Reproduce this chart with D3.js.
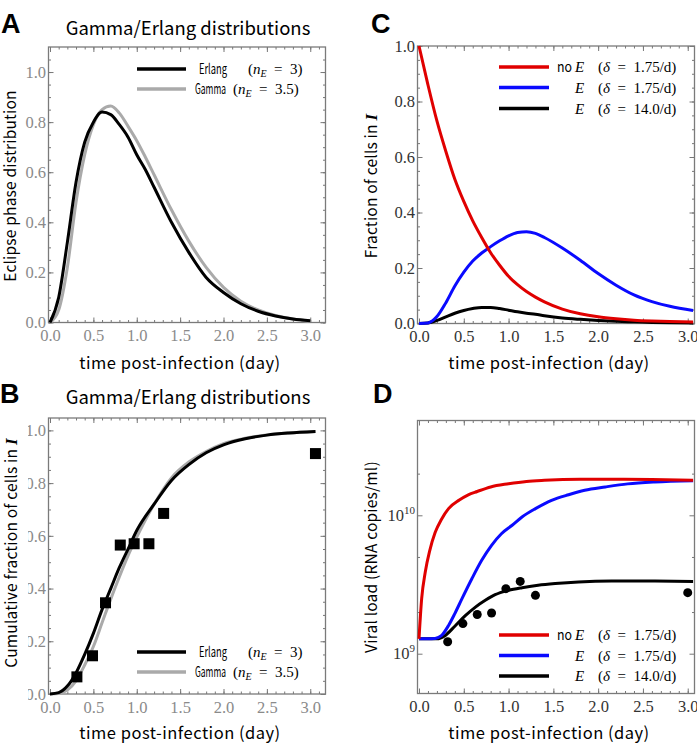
<!DOCTYPE html>
<html>
<head>
<meta charset="utf-8">
<script src="https://cdn.jsdelivr.net/npm/d3@7"></script>
<style>
body { margin: 0; background: #fff; }
svg text { font-family: "Noto Sans CJK JP", "Noto Sans", sans-serif; }
</style>
</head>
<body>
<svg id="fig" width="697" height="751"></svg>
<script>
// ---- data ----

// A: eclipse phase distribution (pdf)
const tA = [0, 0.1, 0.2, 0.3, 0.4, 0.5, 0.6, 0.7, 0.8, 0.9, 1.0, 1.1, 1.2, 1.4, 1.6, 1.8, 2.0, 2.2, 2.4, 2.6, 2.8, 3.0];
const erlangPdf = [0, 0.10, 0.32, 0.56, 0.72, 0.80, 0.84, 0.83, 0.79, 0.74, 0.67, 0.61, 0.54, 0.40, 0.28, 0.18, 0.12, 0.075, 0.045, 0.026, 0.014, 0.007];
const gammaPdf = [0, 0.05, 0.22, 0.48, 0.67, 0.79, 0.85, 0.864, 0.836, 0.783, 0.726, 0.66, 0.59, 0.45, 0.325, 0.22, 0.14, 0.085, 0.05, 0.028, 0.014, 0.005];

// B: cumulative fraction
const tB = [0, 0.1, 0.2, 0.3, 0.4, 0.5, 0.6, 0.7, 0.8, 0.9, 1.0, 1.2, 1.4, 1.6, 1.8, 2.0, 2.25, 2.5, 2.75, 3.06];
const erlangCdf = [0, 0.005, 0.03, 0.08, 0.15, 0.23, 0.32, 0.40, 0.48, 0.55, 0.62, 0.72, 0.81, 0.87, 0.915, 0.945, 0.968, 0.982, 0.99, 0.996];
const gammaCdf = [0, 0.002, 0.015, 0.05, 0.11, 0.18, 0.27, 0.36, 0.445, 0.525, 0.595, 0.72, 0.82, 0.88, 0.92, 0.95, 0.97, 0.983, 0.99, 0.996];
const tBobs = [0.31, 0.49, 0.64, 0.81, 0.97, 1.14, 1.31, 3.06];
const fracBobs = [0.065, 0.145, 0.346, 0.565, 0.57, 0.57, 0.685, 0.912];

// C: fraction of cells in I
const tC = [0, 0.1, 0.2, 0.3, 0.4, 0.5, 0.6, 0.7, 0.8, 0.9, 1.0, 1.1, 1.2, 1.3, 1.4, 1.6, 1.8, 2.0, 2.2, 2.4, 2.6, 2.8, 3.06];
const noE_C = [1.0, 0.86, 0.73, 0.62, 0.52, 0.44, 0.37, 0.31, 0.255, 0.21, 0.17, 0.14, 0.115, 0.095, 0.078, 0.052, 0.035, 0.024, 0.017, 0.012, 0.009, 0.007, 0.005];
const E_C = [0, 0.002, 0.025, 0.075, 0.135, 0.185, 0.225, 0.254, 0.277, 0.298, 0.316, 0.328, 0.331, 0.325, 0.31, 0.272, 0.228, 0.18, 0.138, 0.103, 0.079, 0.062, 0.047];
const E14_C = [0, 0.002, 0.011, 0.024, 0.037, 0.047, 0.054, 0.058, 0.058, 0.054, 0.048, 0.042, 0.037, 0.033, 0.028, 0.02, 0.015, 0.011, 0.008, 0.006, 0.004, 0.003, 0.002];

// D: viral load
const tD_noE = [0, 0.03, 0.07, 0.12, 0.18, 0.25, 0.33, 0.45, 0.55, 0.65, 0.8, 1.0, 1.2, 1.4, 1.8, 2.2, 2.6, 3.06];
const vD_noE = [1.28e9, 2.51e9, 3.89e9, 5.56e9, 7.50e9, 9.33e9, 1.117e10, 1.288e10, 1.406e10, 1.486e10, 1.603e10, 1.69e10, 1.758e10, 1.791e10, 1.82e10, 1.82e10, 1.811e10, 1.791e10];
const tD_E = [0, 0.1, 0.18, 0.25, 0.33, 0.4, 0.48, 0.59, 0.7, 0.81, 0.92, 1.04, 1.15, 1.3, 1.48, 1.67, 1.85, 2.08, 2.33, 2.63, 3.06];
const vD_E = [1.28e9, 1.28e9, 1.29e9, 1.35e9, 1.60e9, 1.95e9, 2.50e9, 3.48e9, 4.73e9, 6.07e9, 7.36e9, 8.47e9, 9.72e9, 1.117e10, 1.282e10, 1.409e10, 1.517e10, 1.603e10, 1.687e10, 1.742e10, 1.778e10];
const tD_E14 = [0, 0.2, 0.29, 0.4, 0.52, 0.63, 0.74, 0.85, 1.0, 1.15, 1.33, 1.52, 1.78, 2.15, 2.52, 3.06];
const vD_E14 = [1.28e9, 1.28e9, 1.35e9, 1.58e9, 1.89e9, 2.17e9, 2.43e9, 2.67e9, 2.87e9, 3.0e9, 3.12e9, 3.21e9, 3.30e9, 3.35e9, 3.35e9, 3.33e9];
const tDobs = [0.32, 0.49, 0.65, 0.81, 0.97, 1.13, 1.30, 3.0];
const vDobs = [1.22e9, 1.65e9, 1.92e9, 1.97e9, 2.95e9, 3.33e9, 2.64e9, 2.76e9];

// ticks
const xTicks = [0, 0.5, 1, 1.5, 2, 2.5, 3];
const yTicksLin = [0, 0.2, 0.4, 0.6, 0.8, 1.0];
const yTicksLog = [1e9, 1e10];
const yMinorLog = [2e9, 5e9, 2e10];

const RED = "#e00000", BLUE = "#0a0aff", GRAY = "#aaaaaa";
const SERIF = "'Liberation Serif', 'DejaVu Serif', serif";

const svg = d3.select("#fig");

// draws the framed box with inward ticks on all four sides
function frame(box, x, y, o) {
	const g = svg.append("g");
	const fmt = o.yFormat || d3.format(".1f");
	const minorX = d3.range(0, x.domain()[1] + 1e-9, 0.1);

	const clean = sel => {
		sel.select(".domain").remove();
		sel.selectAll(".tick line").attr("stroke", "#777");
	};

	g.append("g").attr("transform", `translate(0,${box.b})`)
		.call(d3.axisBottom(x).tickValues(minorX).tickSize(-2.5).tickFormat("")).call(clean);
	g.append("g").attr("transform", `translate(0,${box.t})`)
		.call(d3.axisTop(x).tickValues(minorX).tickSize(-2.5).tickFormat("")).call(clean);
	g.append("g").attr("transform", `translate(0,${box.t})`)
		.call(d3.axisTop(x).tickValues(xTicks).tickSize(-5).tickFormat("")).call(clean);

	let xb = g.append("g").attr("transform", `translate(0,${box.b})`)
		.call(d3.axisBottom(x).tickValues(xTicks).tickSize(-5).tickPadding(o.xPad).tickFormat(d3.format(".1f")))
		.call(clean);
	xb.selectAll("text").style("font-family", SERIF).attr("font-size", 16.5).attr("fill", o.labelColor);

	g.append("g").attr("transform", `translate(${box.l},0)`)
		.call(d3.axisLeft(y).tickValues(o.yMinor).tickSize(-2.5).tickFormat("")).call(clean);
	g.append("g").attr("transform", `translate(${box.r},0)`)
		.call(d3.axisRight(y).tickValues(o.yMinor).tickSize(-2.5).tickFormat("")).call(clean);
	g.append("g").attr("transform", `translate(${box.r},0)`)
		.call(d3.axisRight(y).tickValues(o.yMajor).tickSize(-5).tickFormat("")).call(clean);

	let yl = g.append("g").attr("transform", `translate(${box.l},0)`)
		.call(d3.axisLeft(y).tickValues(o.yMajor).tickSize(-5).tickPadding(2.5).tickFormat(fmt))
		.call(clean);
	yl.selectAll("text").style("font-family", SERIF).attr("font-size", 16.5).attr("fill", o.labelColor);
	if (o.clipY) yl.attr("clip-path", "url(#" + o.clipY + ")");

	g.append("rect")
		.attr("x", box.l).attr("y", box.t)
		.attr("width", box.r - box.l).attr("height", box.b - box.t)
		.attr("fill", "none").attr("stroke", "#7a7a7a").attr("stroke-width", 1.3);
	return yl;
}

function curve(x, y, ts, vs, color, w) {
	const line = d3.line().x(d => x(d[0])).y(d => y(d[1])).curve(d3.curveMonotoneX);
	svg.append("path").datum(d3.zip(ts, vs))
		.attr("d", line).attr("fill", "none")
		.attr("stroke", color).attr("stroke-width", w || 3)
		.attr("stroke-linejoin", "round");
}

function letter(s, x, y) {
	svg.append("text").attr("x", x).attr("y", y).text(s)
		.style("font-family", "'Liberation Sans', Arial, sans-serif")
		.attr("font-weight", "bold").attr("font-size", 27);
}

function title(s, x, y) {
	svg.append("text").attr("x", x).attr("y", y).attr("text-anchor", "middle")
		.attr("font-size", 18.5).text(s);
}

function xLabel(x, y) {
	svg.append("text").attr("x", x).attr("y", y).attr("text-anchor", "middle")
		.attr("font-size", 16.5).attr("letter-spacing", 0.5).text("time post-infection (day)");
}

function yLabel(s, x, y, italicI) {
	const t = svg.append("text")
		.attr("transform", `translate(${x},${y}) rotate(-90)`)
		.attr("text-anchor", "middle").attr("dy", "0.35em")
		.attr("font-size", 15.5).attr("letter-spacing", 0.2).text(s);
	if (italicI) t.append("tspan").style("font-family", SERIF)
		.attr("font-style", "italic").attr("font-weight", "bold").attr("font-size", 17).text("I");
}

// legend for A/B: gamma / erlang
function legendAB(y0) {
	const rows = [
		{ c: "#000", name: "Erlang", nx: 199, nw: 28, mx: 248, val: "3)" },
		{ c: GRAY, name: "Gamma", nx: 195, nw: 31, mx: 233, val: "3.5)" }
	];
	rows.forEach((r, i) => {
		const y = y0 + i * 20;
		svg.append("line").attr("x1", 137).attr("x2", 186).attr("y1", y).attr("y2", y)
			.attr("stroke", r.c).attr("stroke-width", 3.5);
		svg.append("text").attr("x", r.nx).attr("y", y + 5).attr("font-size", 14)
			.attr("textLength", r.nw).attr("lengthAdjust", "spacingAndGlyphs").text(r.name);
		const m = svg.append("text").style("font-family", SERIF).attr("x", r.mx).attr("y", y + 5).attr("font-size", 15);
		m.append("tspan").text("(");
		m.append("tspan").attr("font-style", "italic").text("n");
		m.append("tspan").attr("font-style", "italic").attr("font-size", 10).attr("dy", 3).text("E");
		m.append("tspan").attr("dy", -3).text("\u2002=\u2002" + r.val);
	});
}

// legend for C/D
function legendCD(ys) {
	const rows = [
		{ c: RED, pre: "no", val: "1.75/d)" },
		{ c: BLUE, pre: "", val: "1.75/d)" },
		{ c: "#000", pre: "", val: "14.0/d)" }
	];
	rows.forEach((r, i) => {
		const y = ys[i];
		svg.append("line").attr("x1", 499).attr("x2", 549).attr("y1", y).attr("y2", y)
			.attr("stroke", r.c).attr("stroke-width", 3.5);
		if (r.pre) svg.append("text").attr("x", 557).attr("y", y + 5).attr("font-size", 14)
			.attr("textLength", 15).attr("lengthAdjust", "spacingAndGlyphs").text(r.pre);
		svg.append("text").style("font-family", SERIF).attr("x", 575).attr("y", y + 5)
			.attr("font-size", 15).attr("font-style", "italic").text("E");
		const m = svg.append("text").style("font-family", SERIF).attr("x", 598).attr("y", y + 5).attr("font-size", 15);
		m.append("tspan").text("(");
		m.append("tspan").attr("font-style", "italic").text("\u03b4");
		m.append("tspan").text("\u2002=\u2002" + r.val);
	});
}

// clip used for the partly hidden tick labels of panel B (coords of the translated axis group)
svg.append("defs").append("clipPath").attr("id", "clipB")
	.append("rect").attr("x", -20.5).attr("y", 380).attr("width", 29).attr("height", 340);

// ---------- Panel A ----------
{
	const box = { l: 48.5, r: 325.5, t: 47, b: 322.5 };
	const x = d3.scaleLinear().domain([0, 3.17]).range([50, 325]);
	const y = d3.scaleLinear().domain([0, 1.1]).range([322.5, 47]);
	frame(box, x, y, { xPad: 7, labelColor: "#8a8a8a", yMajor: yTicksLin, yMinor: d3.range(0, 1.1, 0.05) });
	curve(x, y, tA, gammaPdf, GRAY);
	curve(x, y, tA, erlangPdf, "#000");
	legendAB(69);
	letter("A", 1, 33);
	title("Gamma/Erlang distributions", 188, 35);
	xLabel(180, 369);
	yLabel("Eclipse phase distribution", 11, 186);
}

// ---------- Panel B ----------
{
	const box = { l: 48.5, r: 325.5, t: 418, b: 694 };
	const x = d3.scaleLinear().domain([0, 3.17]).range([50, 325]);
	const y = d3.scaleLinear().domain([0, 1.047]).range([694, 418]);
	frame(box, x, y, { xPad: 7, labelColor: "#8a8a8a", yMajor: yTicksLin, yMinor: d3.range(0, 1.04, 0.05), clipY: "clipB" });
	curve(x, y, tB, gammaCdf, GRAY);
	curve(x, y, tB, erlangCdf, "#000");
	svg.append("g").selectAll("rect").data(d3.zip(tBobs, fracBobs)).join("rect")
		.attr("x", d => x(d[0]) - 5.5).attr("y", d => y(d[1]) - 5.5)
		.attr("width", 11).attr("height", 11).attr("fill", "#000");
	legendAB(652);
	letter("B", 0, 403);
	title("Gamma/Erlang distributions", 188, 404);
	xLabel(180, 739);
	yLabel("Cumulative fraction of cells in ", 12, 553, true);
}

// ---------- Panel C ----------
{
	const box = { l: 417.5, r: 694.5, t: 46, b: 323.5 };
	const x = d3.scaleLinear().domain([0, 3.07]).range([419, 694]);
	const y = d3.scaleLinear().domain([0, 1]).range([323.5, 46]);
	frame(box, x, y, { xPad: 7, labelColor: "#333", yMajor: yTicksLin, yMinor: d3.range(0, 1.001, 0.05) });
	curve(x, y, tC, E14_C, "#000");
	curve(x, y, tC, E_C, BLUE);
	curve(x, y, tC, noE_C, RED);
	legendCD([67, 87.5, 108.5]);
	letter("C", 371, 33);
	xLabel(549, 369);
	yLabel("Fraction of cells in ", 372, 186, true);
}

// ---------- Panel D ----------
{
	const box = { l: 417.5, r: 694.5, t: 420.5, b: 693.5 };
	const x = d3.scaleLinear().domain([0, 3.07]).range([419, 694]);
	const y = d3.scaleLog().domain([1e9, 1e10]).range([653.7, 515.3]);
	const yl = frame(box, x, y, { xPad: 7, labelColor: "#333", yMajor: yTicksLog, yMinor: yMinorLog, yFormat: () => "" });
	yl.selectAll(".tick text").each(function (d) {
		const t = d3.select(this);
		t.text("10");
		t.append("tspan").attr("dy", -7).attr("font-size", 11).text(Math.round(Math.log10(d)));
	});
	curve(x, y, tD_E14, vD_E14, "#000");
	curve(x, y, tD_E, vD_E, BLUE);
	curve(x, y, tD_noE, vD_noE, RED);
	svg.append("g").selectAll("circle").data(d3.zip(tDobs, vDobs)).join("circle")
		.attr("cx", d => x(d[0])).attr("cy", d => y(d[1])).attr("r", 4.5).attr("fill", "#000");
	legendCD([635, 655.5, 676]);
	letter("D", 373, 403);
	xLabel(549, 739);
	yLabel("Viral load (RNA copies/ml)", 372, 557);
}
</script>
</body>
</html>
